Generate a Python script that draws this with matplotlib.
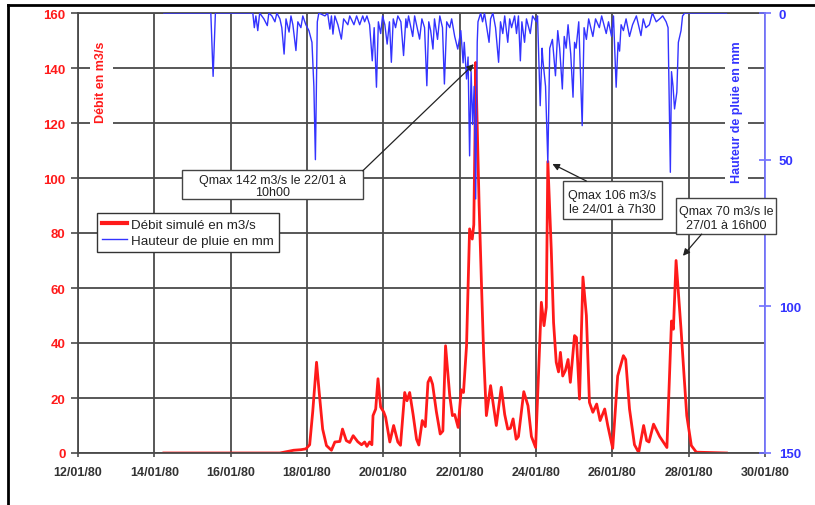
import numpy as np
import matplotlib
matplotlib.use('Agg')
import matplotlib.pyplot as plt
import matplotlib.dates as mdates
from matplotlib.lines import Line2D
from matplotlib.patches import Rectangle

plt.rcParams['font.family'] = ['Liberation Sans', 'DejaVu Sans']

# days counted from 12/01/80 00h00
debit_t = [2.25, 5.29, 5.65, 5.84, 5.97, 6.07, 6.15, 6.25, 6.32, 6.41, 6.51, 6.64, 6.73, 6.86,
           6.93, 7.03, 7.12, 7.21, 7.33, 7.43, 7.51, 7.57, 7.64, 7.70, 7.73, 7.80, 7.86, 7.93,
           8.01, 8.06, 8.17, 8.27, 8.38, 8.45, 8.56, 8.62, 8.69, 8.78, 8.87, 8.93, 9.02, 9.10,
           9.17, 9.23, 9.29, 9.39, 9.49, 9.56, 9.63, 9.74, 9.81, 9.87, 9.96, 10.04, 10.10, 10.18,
           10.26, 10.33, 10.37, 10.40, 10.42, 10.51, 10.57, 10.63, 10.70, 10.81, 10.96, 11.09,
           11.18, 11.26, 11.33, 11.40, 11.48, 11.54, 11.68, 11.79, 11.88, 11.99, 12.14, 12.21,
           12.27, 12.31, 12.40, 12.46, 12.53, 12.59, 12.64, 12.70, 12.77, 12.84, 12.90, 13.01,
           13.06, 13.14, 13.23, 13.32, 13.40, 13.49, 13.59, 13.68, 13.80, 13.88, 14.01, 14.14,
           14.29, 14.35, 14.45, 14.58, 14.69, 14.82, 14.90, 14.96, 15.08, 15.24, 15.43, 15.55,
           15.60, 15.67, 15.80, 15.88, 15.95, 16.07, 16.20, 16.99]
debit_q = [0, 0, 1.0, 1.2, 1.5, 3, 15, 33, 22, 8.7, 2.7, 1.0, 4.0, 4.2,
           8.7, 4.5, 3.8, 6.3, 4.1, 3.0, 4.0, 2.4, 4.0, 3.0, 13.6, 16, 27, 16.7,
           14.9, 13, 4, 10, 4, 2.8, 22, 19, 22, 14, 5, 2.9, 11.8, 9.6,
           25.7, 27.5, 25, 15, 6.9, 8, 39, 20.8, 13.6, 14, 9.3, 23, 22, 39,
           81.5, 77.8, 83, 114, 142, 90, 62, 35.4, 13.6, 24.5, 10, 23.9,
           14, 8.7, 9, 12.4, 5, 6, 22.3, 17.2, 6, 2, 54.8, 46.3,
           53, 106, 74, 47.5, 33, 29.5, 36.6, 28, 30, 34, 25.7, 42.7,
           42, 19.6, 64, 50, 18.4, 14.8, 17.8, 11.8, 16, 10, 1.7, 28,
           35.4, 34, 16, 3, 0.2, 10, 4.5, 4, 10.5, 6, 2, 48,
           45, 70, 45, 28, 13.6, 2.7, 0.3, 0]

pluie_t = [2.25, 3.48, 3.54, 3.60, 4.58, 4.62, 4.66, 4.71, 4.76, 4.87, 4.96, 5.00, 5.08, 5.16,
           5.21, 5.29, 5.34, 5.40, 5.45, 5.53, 5.58, 5.63, 5.71, 5.76, 5.84, 5.89, 5.97, 6.05,
           6.13, 6.18, 6.22, 6.27, 6.31, 6.47, 6.54, 6.60, 6.64, 6.68, 6.73, 6.81, 6.90, 6.96,
           7.07, 7.12, 7.23, 7.30, 7.38, 7.46, 7.51, 7.57, 7.64, 7.71, 7.76, 7.82, 7.87, 7.93,
           7.98, 8.04, 8.10, 8.16, 8.21, 8.26, 8.32, 8.38, 8.46, 8.53, 8.59, 8.62, 8.66, 8.77,
           8.82, 8.87, 8.95, 9.01, 9.08, 9.14, 9.19, 9.24, 9.30, 9.34, 9.42, 9.48, 9.55, 9.60,
           9.66, 9.74, 9.79, 9.87, 9.95, 10.03, 10.09, 10.12, 10.18, 10.22, 10.26, 10.30, 10.34,
           10.38, 10.42, 10.46, 10.48, 10.55, 10.60, 10.65, 10.77, 10.81, 10.87, 10.94, 11.02,
           11.07, 11.13, 11.18, 11.26, 11.31, 11.36, 11.44, 11.49, 11.54, 11.59, 11.63, 11.70,
           11.75, 11.85, 11.91, 12.01, 12.04, 12.11, 12.16, 12.18, 12.25, 12.31, 12.36, 12.43,
           12.51, 12.57, 12.62, 12.69, 12.74, 12.79, 12.84, 12.91, 12.97, 13.01, 13.05, 13.12,
           13.21, 13.26, 13.32, 13.38, 13.49, 13.56, 13.66, 13.72, 13.84, 13.90, 13.98, 14.03,
           14.10, 14.15, 14.19, 14.23, 14.29, 14.36, 14.45, 14.53, 14.63, 14.75, 14.81, 14.88,
           14.97, 15.05, 15.15, 15.24, 15.32, 15.41, 15.46, 15.52, 15.55, 15.59, 15.63, 15.69,
           15.73, 15.80, 15.84, 15.90, 16.99]
pluie_mm = [0, 0, 21.6, 0, 0, 5, 1, 6, 0, 2, 4.3, 0, 1, 3,
            0, 2, 5, 14, 2, 6.5, 1, 4, 12.8, 3, 5, 1, 4, 6,
            10, 25, 50, 3, 0, 1, 0, 5.5, 1, 7.2, 1, 4, 8.9, 2,
            4, 1, 4, 1, 4, 1, 3, 1, 4, 16.3, 5, 25.3, 3, 7,
            1, 4, 10.6, 3, 16.8, 2, 5, 1, 3, 14.5, 2, 5, 1, 8,
            1, 4, 8.9, 2, 5, 24.8, 3, 6, 12.3, 2, 9, 1, 5, 24.2,
            3, 5, 2, 8, 12.3, 6, 17, 10, 22.5, 15, 48.7, 20, 38,
            25, 63.4, 10, 3, 0, 3, 0, 10, 2, 0, 5, 16.8,
            3, 7, 1, 10, 2, 5, 1, 7, 1, 16.3, 3, 10,
            2, 7, 1, 3, 1, 31.6, 12, 16, 25, 51, 12, 9,
            21.4, 6, 12, 25.9, 8, 12, 4, 14, 28.7, 10, 12, 3,
            38.4, 5, 9, 2, 8, 2, 5, 1, 7, 3, 8, 1,
            25.3, 10, 13, 4, 6, 2, 8, 4, 1, 7.7, 2, 5,
            4, 0, 3, 2, 1, 3, 5, 54.3, 20, 25, 32.7, 27,
            10, 6, 1, 0, 0]

# annotations : text, peak (day, m3/s)
notes_txt = ['Qmax 142 m3/s le 22/01 à\n10h00', 'Qmax 106 m3/s\nle 24/01 à 7h30',
             'Qmax 70 m3/s le\n27/01 à 16h00']
notes_pic = [(10.37, 141.4), (12.43, 105.1), (15.85, 71.7)]

date_debut = mdates.date2num(np.datetime64('1980-01-12'))
jours_ticks = [0, 2, 4, 6, 8, 10, 12, 14, 16, 18]

rouge = '#ff1a1a'
bleu = '#3333ff'
gris = '#4a4a4a'

fig = plt.figure(figsize=(8.15, 5.06), dpi=100)
fig.set_facecolor('white')
ax = fig.add_axes([78 / 815, 1 - 454 / 506, 687 / 815, 440 / 506])
ax2 = ax.twinx()

ax.plot(date_debut + np.array(debit_t), debit_q, color=rouge, lw=2, label='Débit simulé en m3/s')
ax2.plot(date_debut + np.array(pluie_t), pluie_mm, color=bleu, lw=1, label='Hauteur de pluie en mm')

ax.set_xlim(date_debut, date_debut + 18)
ax.set_ylim(0, 160)
ax2.set_ylim(150, 0)

ax.set_xticks(date_debut + np.array(jours_ticks))
ax.xaxis.set_major_formatter(mdates.DateFormatter('%d/%m/%y'))
ax.set_yticks(np.arange(0, 161, 20))
ax2.set_yticks([0, 50, 100, 150])

ax.grid(True, color=gris, lw=1.3)
ax.set_axisbelow(True)

ax.tick_params(axis='y', colors=gris, direction='out', length=5, width=1.2, pad=4)
ax.tick_params(axis='x', colors=gris, direction='out', length=3, width=1.2, pad=6)
for lab in ax.get_yticklabels():
    lab.set_color(rouge)
    lab.set_fontweight('bold')
    lab.set_fontsize(9.5)
for lab in ax.get_xticklabels():
    lab.set_color('#333333')
    lab.set_fontweight('bold')
    lab.set_fontsize(9)
ax2.tick_params(axis='y', colors='#6f6fff', direction='inout', length=8, width=1.2, pad=6)
for lab in ax2.get_yticklabels():
    lab.set_color(bleu)
    lab.set_fontweight('bold')
    lab.set_fontsize(9.5)

for s in ['left', 'bottom', 'top']:
    ax.spines[s].set_color(gris)
    ax.spines[s].set_linewidth(1.3)
for s in ['left', 'bottom', 'top']:
    ax2.spines[s].set_visible(False)
ax.spines['right'].set_visible(False)
ax2.spines['right'].set_color('#7777ff')
ax2.spines['right'].set_linewidth(1.3)

ax.text(0.0335, 0.845, 'Débit en m3/s', transform=ax.transAxes, rotation=90,
        ha='center', va='center', color=rouge, fontsize=9, fontweight='bold',
        bbox=dict(facecolor='white', edgecolor='none', pad=4))
ax.text(0.959, 0.777, 'Hauteur de pluie en mm', transform=ax.transAxes, rotation=90,
        ha='center', va='center', color=bleu, fontsize=9, fontweight='bold',
        bbox=dict(facecolor='white', edgecolor='none', pad=4))

h1, l1 = ax.get_legend_handles_labels()
h2, l2 = ax2.get_legend_handles_labels()
leg = ax2.legend([Line2D([], [], color=rouge, lw=3), h2[0]], l1 + l2,
                 loc='upper left', bbox_to_anchor=(0.027, 0.545), borderaxespad=0,
                 fancybox=False, framealpha=1, edgecolor='#333333', fontsize=9.6,
                 handlelength=1.9, handletextpad=0.3, borderpad=0.4, labelspacing=0.25)
leg.get_frame().set_linewidth(1.0)
for t in leg.get_texts():
    t.set_color('#222222')

# boxes : (x0, x1) in days, (y0, y1) in m3/s, arrow start point
boites = [((2.72, 7.46), (92.4, 102.9), (7.46, 102.6), 1.0),
          ((12.70, 15.29), (85.1, 98.9), (13.32, 98.9), 1.2),
          ((15.68, 18.30), (79.6, 92.7), (16.34, 79.6), 1.2)]
for txt, pic, (bx, by, depart, interl) in zip(notes_txt, notes_pic, boites):
    ax2.add_patch(Rectangle((date_debut + bx[0], by[0]), bx[1] - bx[0], by[1] - by[0],
                            transform=ax.transData, facecolor='white', edgecolor='#444444',
                            lw=1, zorder=5, clip_on=False))
    ax2.text(date_debut + (bx[0] + bx[1]) / 2, (by[0] + by[1]) / 2 - 0.6, txt, transform=ax.transData,
             ha='center', va='center', fontsize=9, color='#222222', linespacing=interl,
             zorder=6, clip_on=False)
    ax2.annotate('', xy=(date_debut + pic[0], pic[1]), xycoords=ax.transData,
                 xytext=(date_debut + depart[0], depart[1]), textcoords=ax.transData,
                 annotation_clip=False, zorder=6,
                 arrowprops=dict(arrowstyle='-|>', color='#222222', lw=0.9,
                                 shrinkA=0, shrinkB=0, mutation_scale=10))

fig.add_artist(Line2D([8 / 815, 8 / 815], [0, 1 - 6 / 506], color='black', lw=2))
fig.add_artist(Line2D([8 / 815, 1], [1 - 6 / 506, 1 - 6 / 506], color='black', lw=2))

fig.savefig('out.png', dpi=100, facecolor='white')
